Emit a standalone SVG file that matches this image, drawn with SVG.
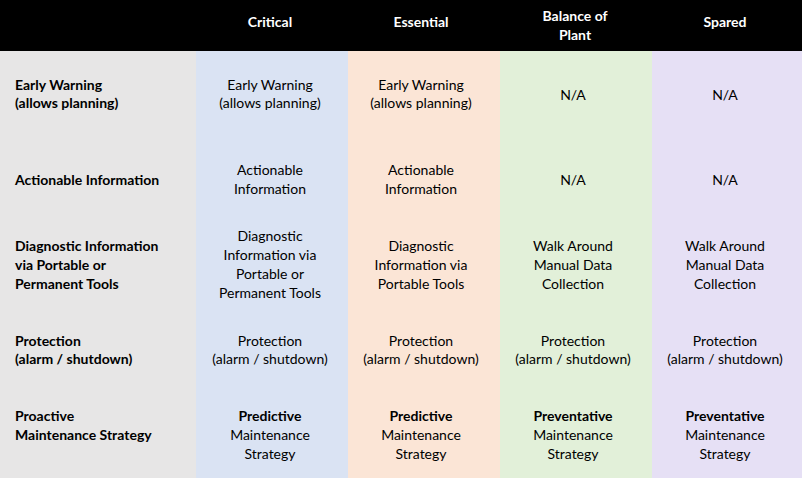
<svg xmlns="http://www.w3.org/2000/svg" width="802" height="478" viewBox="0 0 802 478">
<style>
text{font-family:Lato,"Open Sans",sans-serif;font-size:14px;fill:#000}
.c{text-anchor:middle}
.b{font-weight:bold}
.h{fill:#fff;font-weight:bold;text-anchor:middle}
</style>
<rect x="0" y="0" width="802" height="51" fill="#000"/>
<rect x="0" y="51" width="196" height="427" fill="#e7e6e6"/>
<rect x="196" y="51" width="152" height="427" fill="#dae3f3"/>
<rect x="348" y="51" width="152" height="427" fill="#fbe5d6"/>
<rect x="500" y="51" width="152" height="427" fill="#e2f0d9"/>
<rect x="652" y="51" width="150" height="427" fill="#e6e0f5"/>
<g id="header">
<text class="h" x="270" y="27">Critical</text>
<text class="h" x="421" y="27">Essential</text>
<text class="h" x="575" y="21">Balance of</text>
<text class="h" x="575" y="40">Plant</text>
<text class="h" x="725" y="27">Spared</text>
</g>
<g id="rowlabels" class="b">
<text class="b" x="15" y="90">Early Warning</text>
<text class="b" x="15" y="108">(allows planning)</text>
<text class="b" x="15" y="185">Actionable Information</text>
<text class="b" x="15" y="251">Diagnostic Information</text>
<text class="b" x="15" y="270">via Portable or</text>
<text class="b" x="15" y="289">Permanent Tools</text>
<text class="b" x="15" y="346">Protection</text>
<text class="b" x="15" y="364">(alarm / shutdown)</text>
<text class="b" x="15" y="421">Proactive</text>
<text class="b" x="15" y="440">Maintenance Strategy</text>
</g>
<g id="critical" class="c">
<text class="c" x="270" y="90">Early Warning</text>
<text class="c" x="270" y="108">(allows planning)</text>
<text class="c" x="270" y="175">Actionable</text>
<text class="c" x="270" y="194">Information</text>
<text class="c" x="270" y="241">Diagnostic</text>
<text class="c" x="270" y="260">Information via</text>
<text class="c" x="270" y="279">Portable or</text>
<text class="c" x="270" y="298">Permanent Tools</text>
<text class="c" x="270" y="346">Protection</text>
<text class="c" x="270" y="364">(alarm / shutdown)</text>
<text class="c b" x="270" y="421">Predictive</text>
<text class="c" x="270" y="440">Maintenance</text>
<text class="c" x="270" y="459">Strategy</text>
</g>
<g id="essential">
<text class="c" x="421" y="90">Early Warning</text>
<text class="c" x="421" y="108">(allows planning)</text>
<text class="c" x="421" y="175">Actionable</text>
<text class="c" x="421" y="194">Information</text>
<text class="c" x="421" y="251">Diagnostic</text>
<text class="c" x="421" y="270">Information via</text>
<text class="c" x="421" y="289">Portable Tools</text>
<text class="c" x="421" y="346">Protection</text>
<text class="c" x="421" y="364">(alarm / shutdown)</text>
<text class="c b" x="421" y="421">Predictive</text>
<text class="c" x="421" y="440">Maintenance</text>
<text class="c" x="421" y="459">Strategy</text>
</g>
<g id="balance">
<text class="c" x="573" y="100">N/A</text>
<text class="c" x="573" y="185">N/A</text>
<text class="c" x="573" y="251">Walk Around</text>
<text class="c" x="573" y="270">Manual Data</text>
<text class="c" x="573" y="289">Collection</text>
<text class="c" x="573" y="346">Protection</text>
<text class="c" x="573" y="364">(alarm / shutdown)</text>
<text class="c b" x="573" y="421">Preventative</text>
<text class="c" x="573" y="440">Maintenance</text>
<text class="c" x="573" y="459">Strategy</text>
</g>
<g id="spared">
<text class="c" x="725" y="100">N/A</text>
<text class="c" x="725" y="185">N/A</text>
<text class="c" x="725" y="251">Walk Around</text>
<text class="c" x="725" y="270">Manual Data</text>
<text class="c" x="725" y="289">Collection</text>
<text class="c" x="725" y="346">Protection</text>
<text class="c" x="725" y="364">(alarm / shutdown)</text>
<text class="c b" x="725" y="421">Preventative</text>
<text class="c" x="725" y="440">Maintenance</text>
<text class="c" x="725" y="459">Strategy</text>
</g>
</svg>
